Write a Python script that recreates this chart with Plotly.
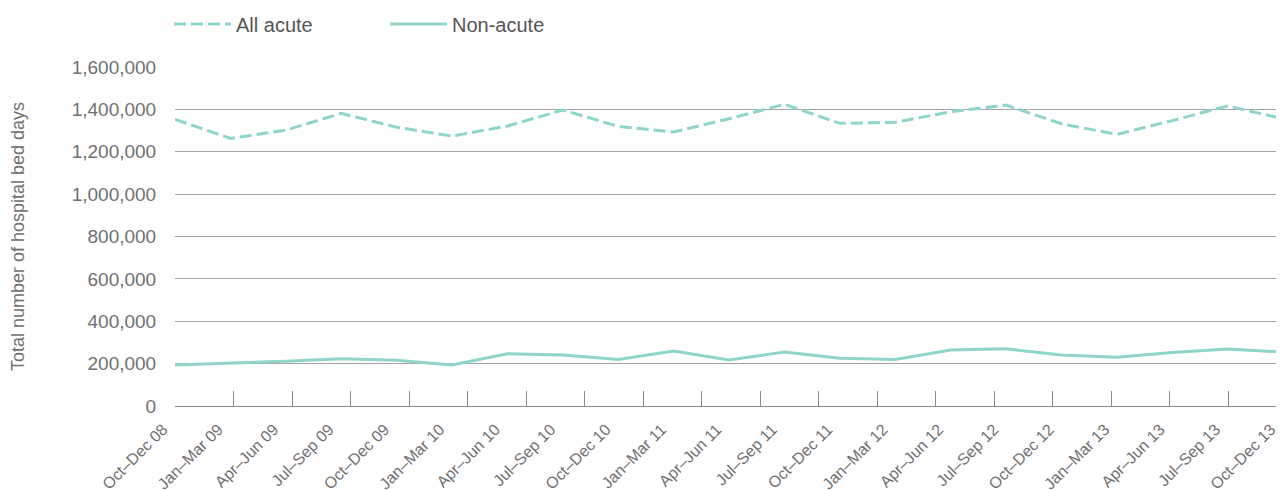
import plotly.graph_objects as go

quarters = ["Oct–Dec 08", "Jan–Mar 09", "Apr–Jun 09", "Jul–Sep 09", "Oct–Dec 09",
            "Jan–Mar 10", "Apr–Jun 10", "Jul–Sep 10", "Oct–Dec 10", "Jan–Mar 11",
            "Apr–Jun 11", "Jul–Sep 11", "Oct–Dec 11", "Jan–Mar 12", "Apr–Jun 12",
            "Jul–Sep 12", "Oct–Dec 12", "Jan–Mar 13", "Apr–Jun 13", "Jul–Sep 13",
            "Oct–Dec 13"]

all_acute = [1353000, 1263000, 1302000, 1381000, 1316000, 1274000, 1321000, 1397000,
             1320000, 1293000, 1356000, 1424000, 1334000, 1339000, 1389000, 1420000,
             1332000, 1282000, 1347000, 1416000, 1356000]

non_acute = [194000, 202000, 211000, 223000, 216000, 194000, 247000, 241000,
             220000, 259000, 217000, 255000, 225000, 219000, 264000, 270000,
             241000, 230000, 253000, 269000, 255000]

y_ticks = [0, 200000, 400000, 600000, 800000, 1000000, 1200000, 1400000, 1600000]
axis_tick_marks = list(range(19))

LINE = "#8fd5cb"
TXT = "#707070"
FONT = "Liberation Sans, Arial, sans-serif"

fig = go.Figure()
fig.add_trace(go.Scatter(x=quarters, y=all_acute, name="All acute", mode="lines",
                         line=dict(color=LINE, width=3, dash="12px,5px")))
fig.add_trace(go.Scatter(x=quarters, y=non_acute, name="Non-acute", mode="lines",
                         line=dict(color=LINE, width=3)))
# empty trace to activate the tick-mark axis
fig.add_trace(go.Scatter(x=[], y=[], xaxis="x2", yaxis="y", showlegend=False,
                         hoverinfo="skip"))

fig.update_layout(
    width=1276, height=482,
    margin=dict(l=167, r=1, t=59, b=84, autoexpand=False),
    paper_bgcolor="white", plot_bgcolor="white",
    font=dict(family=FONT, color=TXT),
    showlegend=True,
    legend=dict(orientation="h", x=-0.0054, xanchor="left", y=1.127, yanchor="middle",
                yref="paper", font=dict(size=20, color="#555555"),
                entrywidth=144, entrywidthmode="pixels", itemwidth=57,
                bgcolor="rgba(0,0,0,0)"),
    xaxis=dict(type="category", range=[0, len(quarters) - 1], showgrid=False,
               ticks="", tickangle=-45, tickfont=dict(size=16, color=TXT),
               ticklabelshift=-12, ticklabelstandoff=10, automargin=False,
               showline=False, zeroline=False),
    xaxis2=dict(overlaying="x", anchor="y", side="bottom", range=[0, 1108 / 58.5],
                tickvals=axis_tick_marks, ticks="inside", ticklen=15, tickwidth=1,
                tickcolor="#8a8a8a", showticklabels=False, showgrid=False,
                showline=True, linecolor="#8a8a8a", linewidth=1, zeroline=False),
    yaxis=dict(range=[0, 1600000], tickvals=y_ticks, tickformat=",",
               showgrid=True, gridcolor="#a5a5a5", gridwidth=1, zeroline=False,
               showline=False, ticks="outside", ticklen=14, automargin=False,
               tickcolor="rgba(0,0,0,0)", tickfont=dict(size=19, color=TXT),
               title=dict(text="Total number of hospital bed days",
                          font=dict(size=18, color=TXT), standoff=42)),
)

fig.write_html("out.html")
